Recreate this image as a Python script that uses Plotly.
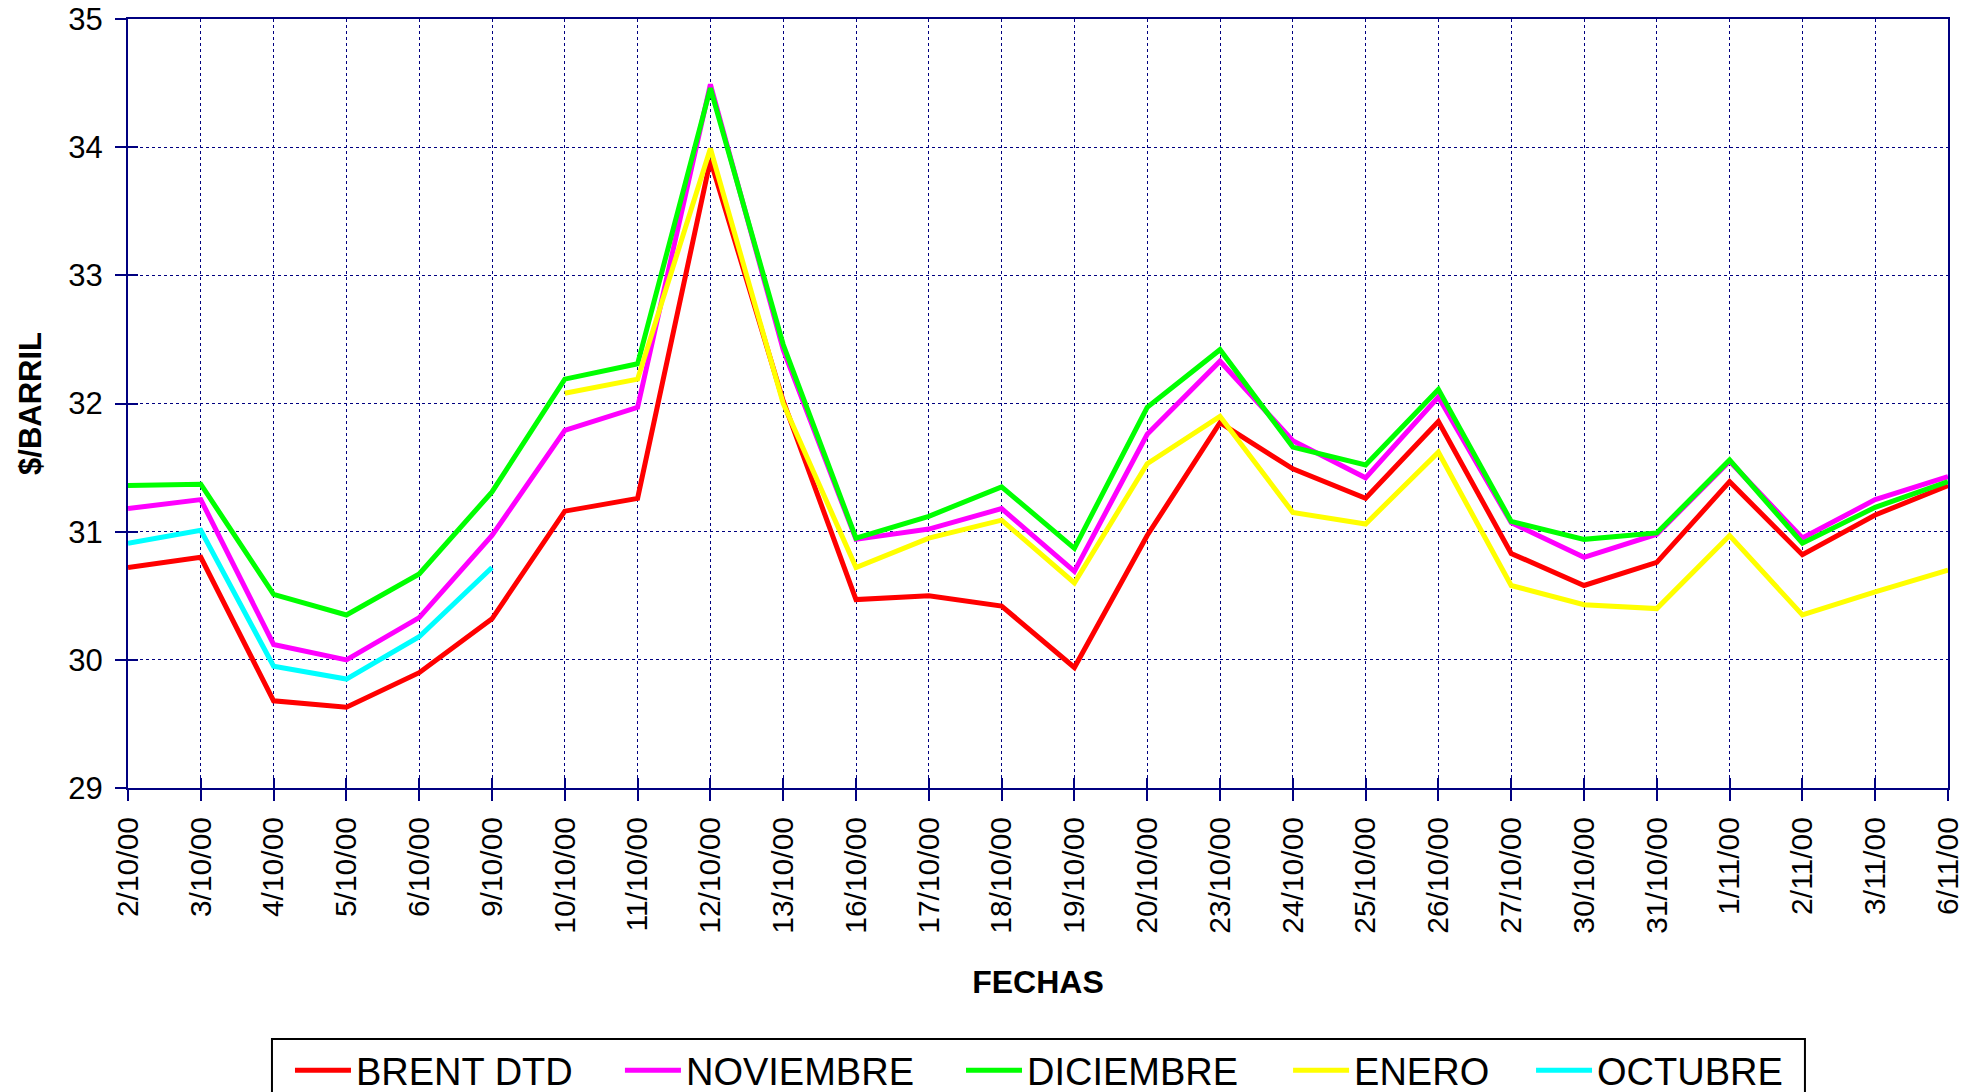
import plotly.graph_objects as go

dates = ["2/10/00", "3/10/00", "4/10/00", "5/10/00", "6/10/00", "9/10/00", "10/10/00",
         "11/10/00", "12/10/00", "13/10/00", "16/10/00", "17/10/00", "18/10/00", "19/10/00",
         "20/10/00", "23/10/00", "24/10/00", "25/10/00", "26/10/00", "27/10/00", "30/10/00",
         "31/10/00", "1/11/00", "2/11/00", "3/11/00", "6/11/00"]

brent_dtd = [30.72, 30.80, 29.68, 29.63, 29.90, 30.32, 31.16, 31.26, 33.90, 32.02, 30.47,
             30.50, 30.42, 29.94, 30.97, 31.85, 31.49, 31.26, 31.86, 30.83, 30.58, 30.76,
             31.39, 30.82, 31.13, 31.36]
noviembre = [31.18, 31.25, 30.12, 30.00, 30.33, 30.97, 31.79, 31.97, 34.49, 32.42, 30.94,
             31.02, 31.18, 30.69, 31.76, 32.33, 31.71, 31.42, 32.05, 31.07, 30.80, 30.98,
             31.55, 30.95, 31.25, 31.43]
diciembre = [31.36, 31.37, 30.51, 30.35, 30.67, 31.31, 32.19, 32.31, 34.46, 32.46, 30.95,
             31.12, 31.35, 30.87, 31.97, 32.42, 31.66, 31.52, 32.11, 31.08, 30.94, 30.99,
             31.56, 30.91, 31.19, 31.39]
enero = [None, None, None, None, None, None, 32.08, 32.19, 33.99, 32.00, 30.72,
         30.95, 31.09, 30.60, 31.53, 31.90, 31.15, 31.06, 31.62, 30.58, 30.43, 30.40,
         30.97, 30.35, 30.53, 30.70]
octubre = [30.91, 31.01, 29.95, 29.85, 30.18, 30.72, None, None, None, None, None,
           None, None, None, None, None, None, None, None, None, None, None,
           None, None, None, None]

series_names = ["BRENT DTD", "NOVIEMBRE", "DICIEMBRE", "ENERO", "OCTUBRE"]
series_values = [brent_dtd, noviembre, diciembre, enero, octubre]
series_colors = ["#FF0000", "#FF00FF", "#00FF00", "#FFFF00", "#00FFFF"]

# horizontal position (paper fraction) of each legend entry
legend_x = [0.0890, 0.2703, 0.4577, 0.6374, 0.7709]
legend_ids = ["legend", "legend2", "legend3", "legend4", "legend5"]

NAVY = "#000080"
FONT = "Liberation Sans, Arial, sans-serif"
LEG_Y = -0.3264

fig = go.Figure()

# empty trace hosting the overlay axes that draw the inner half of each tick mark
fig.add_trace(go.Scatter(x=[], y=[], xaxis="x2", yaxis="y2", showlegend=False,
                         hoverinfo="skip"))

for name, vals, color, lid in zip(series_names, series_values, series_colors, legend_ids):
    fig.add_trace(go.Scatter(x=dates, y=vals, name=name, mode="lines",
                             line=dict(color=color, width=5),
                             connectgaps=False, legend=lid))

legend_layouts = {}
for lid, lx in zip(legend_ids, legend_x):
    legend_layouts[lid] = dict(orientation="h", x=lx, xanchor="left", y=LEG_Y,
                               yanchor="top", borderwidth=0,
                               bgcolor="rgba(0,0,0,0)",
                               font=dict(size=38, family=FONT, color="black"),
                               itemwidth=56)

fig.update_layout(
    width=1982, height=1092,
    margin=dict(l=128, r=34, t=19, b=304, autoexpand=False),
    paper_bgcolor="white", plot_bgcolor="white",
    font=dict(family=FONT, color="black"),
    showlegend=True,
    xaxis=dict(type="category", categoryorder="array", categoryarray=dates,
               range=[0, 25], tickangle=-90,
               ticks="outside", ticklen=11, tickwidth=2, tickcolor=NAVY,
               ticklabelstandoff=4,
               showline=True, linecolor=NAVY, linewidth=2, mirror=True,
               showgrid=True, gridcolor=NAVY, gridwidth=1, griddash="dot",
               tickfont=dict(size=30, family=FONT, color="black"),
               title=dict(text="FECHAS", standoff=38,
                          font=dict(size=32, family=FONT, color="black", weight="bold"))),
    yaxis=dict(range=[29, 35], dtick=1, tick0=29,
               ticks="outside", ticklen=11, tickwidth=2, tickcolor=NAVY,
               ticklabelstandoff=6,
               showline=True, linecolor=NAVY, linewidth=2, mirror=True,
               showgrid=True, gridcolor=NAVY, gridwidth=1, griddash="dot",
               zeroline=False,
               tickfont=dict(size=31, family=FONT, color="black"),
               title=dict(text="$/BARRIL", standoff=17,
                          font=dict(size=31, family=FONT, color="black", weight="bold"))),
    xaxis2=dict(overlaying="x", range=[0, 25], dtick=1, tick0=0, side="bottom",
                ticks="inside", ticklen=10, tickwidth=2, tickcolor=NAVY,
                showticklabels=False, showgrid=False, zeroline=False, showline=False),
    yaxis2=dict(overlaying="y", range=[29, 35], dtick=1, tick0=29, side="left",
                ticks="inside", ticklen=10, tickwidth=2, tickcolor=NAVY,
                showticklabels=False, showgrid=False, zeroline=False, showline=False),
    shapes=[dict(type="rect", xref="paper", yref="paper",
                 x0=0.0791, x1=0.9214, y0=LEG_Y, y1=-0.4057,
                 line=dict(color="black", width=2), fillcolor="white", layer="below")],
    **legend_layouts,
)

fig.write_html("out.html", config={"displayModeBar": False},
               post_script="document.body.style.margin='0';")
